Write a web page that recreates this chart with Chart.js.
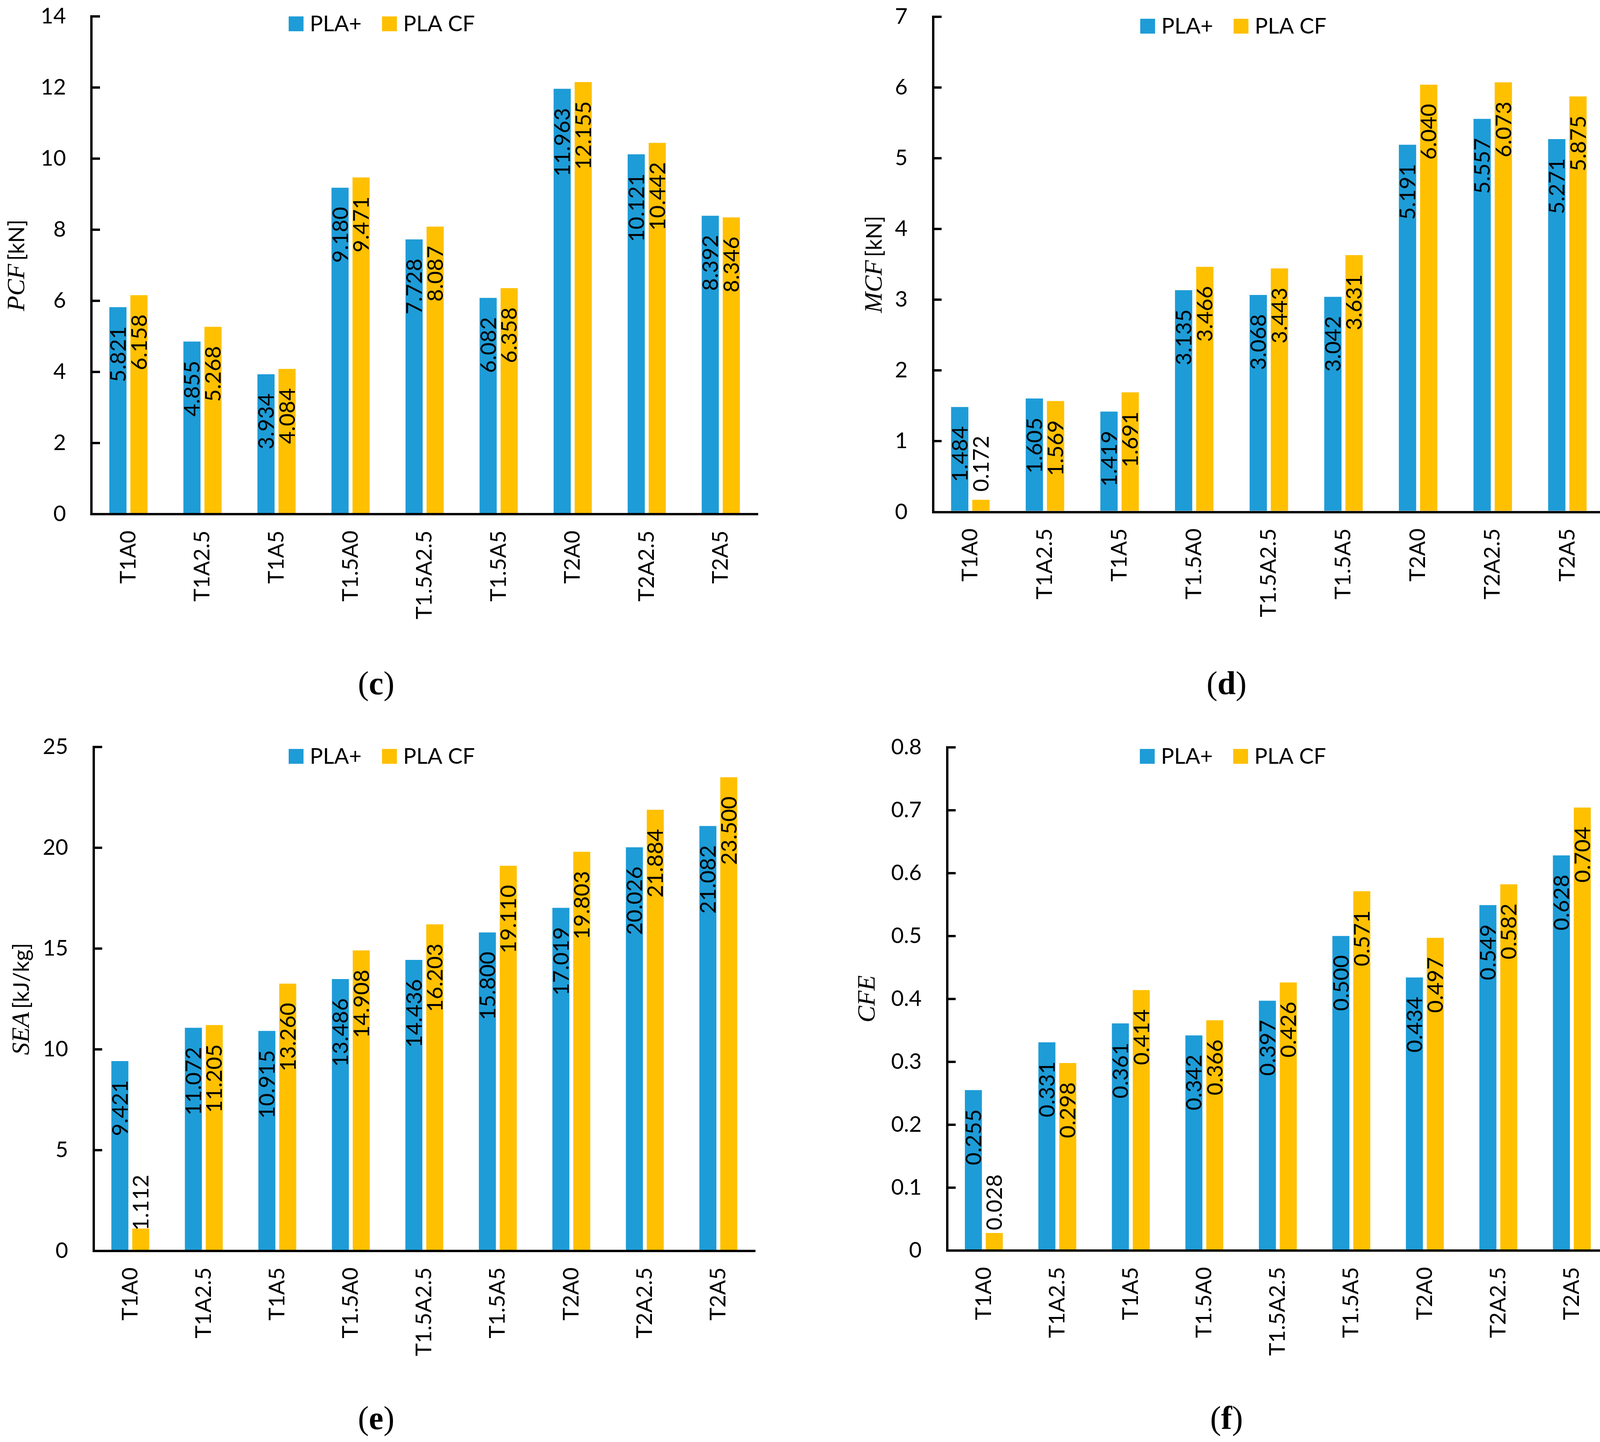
<!DOCTYPE html>
<html>
<head>
<meta charset="utf-8">
<script src="https://cdn.jsdelivr.net/npm/chart.js@4.4.1/dist/chart.umd.min.js"></script>
<style>
html,body{margin:0;padding:0;background:#ffffff;}
body{width:4135px;height:3691px;position:relative;overflow:hidden;}
canvas{position:absolute;}
.cap{position:absolute;font-family:"Liberation Serif","Times New Roman",serif;font-size:84px;line-height:1;transform:translate(-50%,-50%);white-space:nowrap;color:#000;}
</style>
</head>
<body>
<canvas id="cv_c"></canvas>
<canvas id="cv_d"></canvas>
<canvas id="cv_e"></canvas>
<canvas id="cv_f"></canvas>
<div class="cap" id="cap_c">(<b>c</b>)</div>
<div class="cap" id="cap_d">(<b>d</b>)</div>
<div class="cap" id="cap_e">(<b>e</b>)</div>
<div class="cap" id="cap_f">(<b>f</b>)</div>
<script>
// ---------------- data ----------------
const categories = ['T1A0', 'T1A2.5', 'T1A5', 'T1.5A0', 'T1.5A2.5', 'T1.5A5', 'T2A0', 'T2A2.5', 'T2A5'];
const seriesNames = ['PLA+', 'PLA CF'];

const pcfPlus = [5.821, 4.855, 3.934, 9.180, 7.728, 6.082, 11.963, 10.121, 8.392];
const pcfCF   = [6.158, 5.268, 4.084, 9.471, 8.087, 6.358, 12.155, 10.442, 8.346];
const mcfPlus = [1.484, 1.605, 1.419, 3.135, 3.068, 3.042, 5.191, 5.557, 5.271];
const mcfCF   = [0.172, 1.569, 1.691, 3.466, 3.443, 3.631, 6.040, 6.073, 5.875];
const seaPlus = [9.421, 11.072, 10.915, 13.486, 14.436, 15.800, 17.019, 20.026, 21.082];
const seaCF   = [1.112, 11.205, 13.260, 14.908, 16.203, 19.110, 19.803, 21.884, 23.500];
const cfePlus = [0.255, 0.331, 0.361, 0.342, 0.397, 0.500, 0.434, 0.549, 0.628];
const cfeCF   = [0.028, 0.298, 0.414, 0.366, 0.426, 0.571, 0.497, 0.582, 0.704];

const pcfTicks = [0, 2, 4, 6, 8, 10, 12, 14];
const mcfTicks = [0, 1, 2, 3, 4, 5, 6, 7];
const seaTicks = [0, 5, 10, 15, 20, 25];
const cfeTicks = [0, 0.1, 0.2, 0.3, 0.4, 0.5, 0.6, 0.7, 0.8];

// ---------------- styles / layout ----------------
const COLORS = ['#1E9CD7', '#FFC000'];
const SANS = 'Lato, "Open Sans", sans-serif';
const FONT_PX = 56;

const panels = [
  { key: 'c', ox: 0,    oy: 0,    w: 2067, h: 1845, L: 234,    R: 1940, T: 42,     B: 1316,
    italic: 'PCF', unit: '[kN]',    titleX: 62,   legX: 739,  legY: 42,
    s1: pcfPlus, s2: pcfCF, ticks: pcfTicks, cap: [963, 1749] },
  { key: 'd', ox: 2067, oy: 0,    w: 2068, h: 1845, L: 2388.5, R: 4108, T: 43,     B: 1310.5,
    italic: 'MCF', unit: '[kN]',    titleX: 2257, legX: 2919, legY: 48,
    s1: mcfPlus, s2: mcfCF, ticks: mcfTicks, cap: [3140, 1749] },
  { key: 'e', ox: 0,    oy: 1845, w: 2067, h: 1846, L: 239.5,  R: 1933, T: 1912,   B: 3202,
    italic: 'SEA', unit: '[kJ/kg]', titleX: 74,   legX: 739,  legY: 1917,
    s1: seaPlus, s2: seaCF, ticks: seaTicks, cap: [963, 3630] },
  { key: 'f', ox: 2067, oy: 1845, w: 2068, h: 1846, L: 2424.5, R: 4118, T: 1912.5, B: 3201,
    italic: 'CFE', unit: '',        titleX: 2239, legX: 2918, legY: 1917,
    s1: cfePlus, s2: cfeCF, ticks: cfeTicks, cap: [3140, 3630] }
];

// ---------------- plugins ----------------
const barLabelPlugin = {
  id: 'barLabels',
  afterDatasetsDraw(chart) {
    const ctx = chart.ctx;
    ctx.save();
    ctx.font = FONT_PX + 'px ' + SANS;
    ctx.fillStyle = '#000';
    ctx.textAlign = 'right';
    ctx.textBaseline = 'alphabetic';
    chart.data.datasets.forEach((ds, di) => {
      const meta = chart.getDatasetMeta(di);
      meta.data.forEach((bar, i) => {
        const txt = Number(ds.data[i]).toFixed(3);
        const w = ctx.measureText(txt).width;
        const ay = Math.min(bar.y + 49, bar.base - 49 - w);
        ctx.save();
        ctx.translate(bar.x + 20, ay);
        ctx.rotate(-Math.PI / 2);
        ctx.fillText(txt, 0, 0);
        ctx.restore();
      });
    });
    ctx.restore();
  }
};

const legendPlugin = {
  id: 'manualLegend',
  afterDraw(chart, args, opts) {
    const ctx = chart.ctx;
    ctx.save();
    ctx.font = FONT_PX + 'px ' + SANS;
    ctx.textAlign = 'left';
    ctx.textBaseline = 'alphabetic';
    chart.data.datasets.forEach((ds, i) => {
      const bx = opts.x + i * opts.step;
      ctx.fillStyle = ds.backgroundColor;
      ctx.fillRect(bx, opts.y, opts.box, opts.box);
      ctx.fillStyle = '#000';
      ctx.fillText(ds.label, bx + opts.box + 16, opts.y + opts.box);
    });
    ctx.restore();
  }
};

const yTitlePlugin = {
  id: 'yTitle',
  afterDraw(chart, args, opts) {
    const ctx = chart.ctx;
    const ca = chart.chartArea;
    const cy = (ca.top + ca.bottom) / 2;
    const f1 = 'italic 64px "Liberation Serif", "Times New Roman", serif';
    const f2 = FONT_PX + 'px ' + SANS;
    ctx.save();
    ctx.font = f1;
    const w1 = ctx.measureText(opts.italic).width;
    let w2 = 0;
    const gap = opts.unit ? 8 : 0;
    if (opts.unit) { ctx.font = f2; w2 = ctx.measureText(opts.unit).width; }
    const W = w1 + gap + w2;
    ctx.translate(opts.x, cy);
    ctx.rotate(-Math.PI / 2);
    ctx.textAlign = 'left';
    ctx.textBaseline = 'alphabetic';
    ctx.fillStyle = '#000';
    ctx.font = f1;
    ctx.fillText(opts.italic, -W / 2, 0);
    if (opts.unit) { ctx.font = f2; ctx.fillText(opts.unit, -W / 2 + w1 + gap, 0); }
    ctx.restore();
  }
};

function zeroPad(s) {
  s.paddingTop = 0; s.paddingBottom = 0; s.paddingLeft = 0; s.paddingRight = 0;
}

// ---------------- build ----------------
function build() {
  panels.forEach(p => {
    const cv = document.getElementById('cv_' + p.key);
    cv.width = p.w; cv.height = p.h;
    cv.style.left = p.ox + 'px'; cv.style.top = p.oy + 'px';
    cv.style.width = p.w + 'px'; cv.style.height = p.h + 'px';

    const cap = document.getElementById('cap_' + p.key);
    cap.style.left = p.cap[0] + 'px'; cap.style.top = p.cap[1] + 'px';

    const yW = p.L - p.ox;
    const xH = 350;
    const padTop = p.T - p.oy;
    const padRight = p.ox + p.w - p.R;
    const padBottom = p.oy + p.h - p.B - xH;
    const tks = p.ticks;

    new Chart(cv, {
      type: 'bar',
      data: {
        labels: categories,
        datasets: [
          { label: seriesNames[0], data: p.s1, backgroundColor: COLORS[0], borderWidth: 0,
            categoryPercentage: 0.568, barPercentage: 0.815 },
          { label: seriesNames[1], data: p.s2, backgroundColor: COLORS[1], borderWidth: 0,
            categoryPercentage: 0.568, barPercentage: 0.815 }
        ]
      },
      options: {
        responsive: false,
        maintainAspectRatio: false,
        animation: false,
        events: [],
        layout: { autoPadding: false, padding: { left: 0, top: padTop, right: padRight, bottom: padBottom } },
        plugins: {
          legend: { display: false },
          tooltip: { enabled: false },
          title: { display: false },
          manualLegend: { x: p.legX - p.ox, y: p.legY - p.oy, step: 239, box: 38 },
          yTitle: { x: p.titleX - p.ox, italic: p.italic, unit: p.unit }
        },
        scales: {
          x: {
            type: 'category',
            grid: { display: false, drawTicks: false },
            border: { display: true, color: '#000', width: 6 },
            ticks: {
              autoSkip: false, minRotation: 90, maxRotation: 90, padding: 42,
              color: '#000', font: { family: SANS, size: FONT_PX }
            },
            afterFit(s) { s.height = xH; zeroPad(s); }
          },
          y: {
            type: 'linear',
            min: tks[0],
            max: tks[tks.length - 1],
            grid: {
              display: true, drawOnChartArea: false, drawTicks: true,
              tickLength: -22, tickWidth: 6, tickColor: '#000', lineWidth: 6, color: '#000'
            },
            border: { display: true, color: '#000', width: 6 },
            ticks: {
              padding: 87, color: '#000', font: { family: SANS, size: FONT_PX },
              callback: v => String(+Number(v).toFixed(2))
            },
            afterBuildTicks(s) { s.ticks = tks.map(v => ({ value: v })); },
            afterFit(s) { s.width = yW; zeroPad(s); }
          }
        }
      },
      plugins: [barLabelPlugin, legendPlugin, yTitlePlugin]
    });
  });
}

const fontLoads = [
  document.fonts.load(FONT_PX + 'px Lato'),
  document.fonts.load('italic 64px "Liberation Serif"'),
  document.fonts.load('bold 84px "Liberation Serif"')
];
let built = false;
function go() { if (!built) { built = true; build(); } }
Promise.all(fontLoads).then(go, go);
setTimeout(go, 1500);
</script>
</body>
</html>
